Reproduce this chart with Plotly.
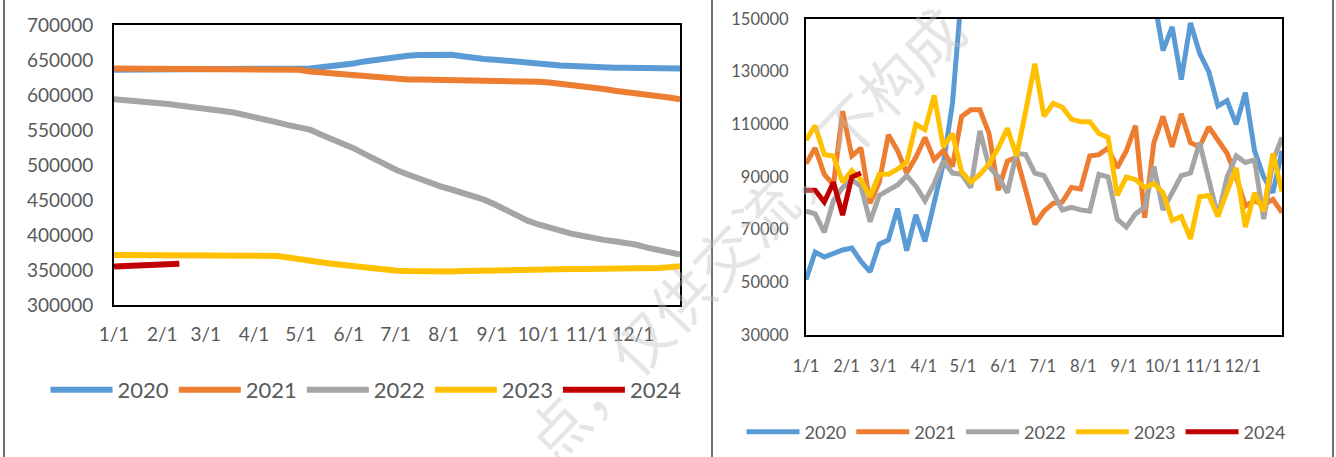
import plotly.graph_objects as go

# ---------------- data ----------------
month_labels = ["1/1", "2/1", "3/1", "4/1", "5/1", "6/1", "7/1", "8/1", "9/1", "10/1", "11/1", "12/1"]
month_days = [0, 31, 59, 90, 120, 151, 181, 212, 243, 273, 304, 334]
week_days = list(range(0, 365, 7))  # weekly observations, day of year
years = ["2020", "2021", "2022", "2023", "2024"]

# left panel (cumulative level)
left_2020 = [636000, 636000, 636000, 636000, 636000, 636000, 636000, 636000, 636000, 636000,
             636000, 636000, 636200, 636300, 636500, 636600, 636700, 636800, 638000, 639500,
             641000, 642500, 645000, 648000, 650500, 652500, 654500, 656000, 657000, 657500,
             657500, 657500, 655500, 653000, 651500, 650500, 649500, 648000, 646500, 645000,
             643500, 642000, 641000, 640500, 640000, 639500, 639000, 638800, 638500, 638300,
             638000, 638000, 638000]
left_2021 = [638000, 638000, 638000, 638000, 638000, 638000, 638000, 638000, 638000, 638000,
             638000, 638000, 638000, 638000, 638000, 637500, 637000, 636000, 633500, 632000,
             630500, 629500, 628000, 626500, 625000, 623500, 622500, 622000, 622000, 621800,
             621800, 621800, 621800, 621800, 621600, 621500, 621500, 621000, 620000, 619000,
             618000, 616500, 615000, 613500, 611000, 608500, 606000, 604500, 603000, 601000,
             599000, 596500, 594000]
left_2022 = [594000, 593000, 591500, 590000, 588500, 587000, 585000, 582500, 580500, 578500,
             577000, 575000, 572000, 568500, 565000, 561000, 557000, 554000, 550500, 543500,
             537500, 531000, 524000, 516000, 507500, 499500, 492500, 486500, 480500, 474500,
             469500, 465000, 460500, 456000, 450500, 443500, 435500, 427500, 420500, 415000,
             410000, 405500, 402000, 399000, 395500, 393000, 391000, 389000, 386000, 382000,
             378500, 375500, 372000]
left_2023 = [371500, 371500, 371500, 371500, 371500, 371500, 371500, 371500, 371500, 371500,
             371500, 371500, 371500, 371500, 371000, 370000, 368000, 365000, 363000, 361000,
             359000, 357000, 355000, 353000, 351500, 350000, 349000, 348500, 348000, 348000,
             348000, 348000, 348500, 349000, 349500, 350000, 350500, 351000, 351000, 351500,
             351500, 351500, 351500, 351500, 351500, 352000, 352000, 352000, 352500, 352500,
             353000, 354000, 355500]
left_2024 = [355000, 355500, 356500, 357000, 358000, 358500, 359000]

# right panel (weekly flow)
right_2020 = [51000, 61500, 59600, 61000, 62300, 63000, 58000, 54000, 64500, 66100,
              78000, 62000, 75600, 65500, 80000, 95000, 118000, 160000, 172000, 185000,
              196000, 205000, 212000, 218000, 220000, 221000, 219000, 215000, 210000, 204000,
              198000, 192000, 186000, 180000, 174000, 168000, 164000, 161000, 158000, 138000,
              147000, 127000, 148500, 137000, 130000, 117000, 119000, 110000, 122000, 100000,
              90000, 84000, 100000]
right_2021 = [95000, 101000, 91000, 87000, 115000, 98000, 101000, 80000, 88000, 106000,
              100000, 91500, 97500, 105000, 96500, 100000, 94000, 113000, 115500, 115500,
              106500, 85000, 96000, 97500, 85000, 72000, 77000, 80000, 80500, 86000,
              85500, 98000, 98500, 101000, 93500, 100000, 109500, 74500, 103000, 113000,
              101500, 114000, 103000, 101500, 109000, 104000, 99000, 90000, 79000, 81000,
              79500, 81500, 76500]
right_2022 = [77000, 76000, 69000, 81000, 86000, 89000, 86500, 73000, 83000, 85000,
              87000, 90500, 86500, 81000, 87500, 96000, 91500, 91000, 86000, 107500,
              94000, 90000, 84000, 99000, 98500, 91500, 90500, 84000, 77500, 78500,
              77500, 77000, 91000, 90000, 74000, 71000, 76000, 78500, 94000, 77500,
              84000, 90500, 91500, 103000, 89000, 75000, 90000, 98000, 95500, 96500,
              74000, 96000, 105000]
right_2023 = [104000, 109500, 98500, 98000, 88000, 92500, 89000, 82500, 91000, 91000,
              93000, 95500, 110000, 108000, 121000, 101500, 106500, 92000, 88000, 91000,
              95000, 101000, 108500, 98000, 115000, 133000, 113000, 118000, 116500, 112000,
              111000, 111000, 106500, 105000, 83000, 90000, 89000, 86000, 87500, 84000,
              73500, 75000, 66500, 82500, 83000, 75000, 84500, 93500, 71000, 84000,
              77000, 99000, 84500]
right_2024 = [85000, 85000, 80500, 88000, 75500, 90000, 91500]

colors = ["#5B9BD5", "#ED7D31", "#A5A5A5", "#FFC000", "#C00000"]

# ---------------- figure ----------------
fig = go.Figure()
left_series = [left_2020, left_2021, left_2022, left_2023, left_2024]
right_series = [right_2020, right_2021, right_2022, right_2023, right_2024]

for name, vals, col in zip(years, left_series, colors):
    fig.add_trace(go.Scatter(x=week_days[:len(vals)], y=vals, name=name, mode="lines",
                             line=dict(color=col, width=6), xaxis="x", yaxis="y",
                             legend="legend"))
for name, vals, col in zip(years, right_series, colors):
    fig.add_trace(go.Scatter(x=week_days[:len(vals)], y=vals, name=name, mode="lines",
                             line=dict(color=col, width=5), xaxis="x2", yaxis="y2",
                             legend="legend2"))

W, H = 1336, 457
txt = "#595959"
left_font = dict(family="Lato", size=19, color=txt)
right_font = dict(family="Lato", size=16.5, color=txt)

common = dict(showline=True, mirror=True, linecolor="#000000", linewidth=2,
              showgrid=False, zeroline=False, ticks="", automargin=False, tickangle=0)

fig.update_layout(
    width=W, height=H,
    margin=dict(l=0, r=0, t=0, b=0, autoexpand=False),
    paper_bgcolor="white", plot_bgcolor="white",
    xaxis=dict(domain=[114 / W, 680 / W], range=[0, 364], tickmode="array",
               tickvals=month_days, ticktext=month_labels, tickfont=left_font,
               anchor="y", ticklabelstandoff=11, **common),
    yaxis=dict(domain=[1 - 305 / H, 1 - 25 / H], range=[300000, 700000], tick0=300000,
               dtick=50000, tickformat="d", tickfont=left_font, anchor="x",
               ticklabelstandoff=15, **common),
    xaxis2=dict(domain=[806 / W, 1282 / W], range=[0, 364], tickmode="array",
                tickvals=month_days, ticktext=month_labels, tickfont=right_font,
                anchor="y2", ticklabelstandoff=15, **common),
    yaxis2=dict(domain=[1 - 335 / H, 1 - 19 / H], range=[30000, 150000], tick0=30000,
                dtick=20000, tickformat="d", tickfont=right_font, anchor="x2",
                ticklabelstandoff=12, **common),
    legend=dict(orientation="h", x=366 / W, xanchor="center", y=1 - 390 / H, yanchor="middle",
                font=dict(family="Lato", size=22, color=txt), itemwidth=62,
                bgcolor="rgba(0,0,0,0)", traceorder="normal"),
    legend2=dict(orientation="h", x=1016 / W, xanchor="center", y=1 - 432 / H, yanchor="middle",
                 font=dict(family="Lato", size=18, color=txt), itemwidth=53,
                 bgcolor="rgba(0,0,0,0)", traceorder="normal"),
    showlegend=True,
)

# panel frames
for xp in [4, 712, 1333]:
    fig.add_shape(type="line", xref="paper", yref="paper", x0=xp / W, x1=xp / W, y0=0, y1=1,
                  line=dict(color="#404040", width=1.5))

# watermark
fig.add_annotation(text="点，仅供交流，不构成", xref="paper", yref="paper",
                   x=742 / W, y=1 - 232 / H, showarrow=False, textangle=-46,
                   font=dict(family="Noto Sans CJK SC", size=60, color="rgba(190,190,190,0.40)"))

fig.write_html("out.html", config={"displayModeBar": False},
               post_script="document.body.style.margin='0';")
